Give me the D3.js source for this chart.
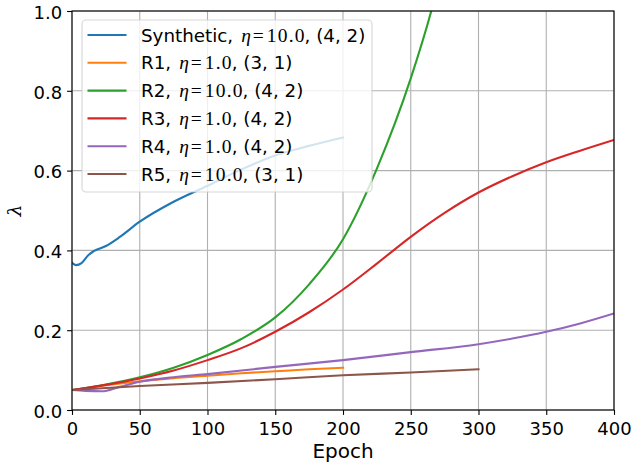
<!DOCTYPE html>
<html>
<head>
<meta charset="utf-8">
<script src="https://cdn.jsdelivr.net/npm/d3@7"></script>
<style>
  html, body { margin: 0; padding: 0; background: #fff; }
  svg { display: block; }
</style>
</head>
<body>
<svg id="chart" width="634" height="466"></svg>
<script>
// ---- data ----
const xTicks = [0, 50, 100, 150, 200, 250, 300, 350, 400];
const yTicks = [0.0, 0.2, 0.4, 0.6, 0.8, 1.0];

const synthEpoch = [0, 3, 7, 12, 16, 25, 35, 50, 75, 100, 125, 150, 175, 200];
const synthVal   = [0.369, 0.363, 0.368, 0.388, 0.398, 0.411, 0.433, 0.472, 0.522, 0.562, 0.603, 0.638, 0.662, 0.683];

const r1Epoch = [0, 25, 50, 75, 100, 125, 150, 175, 200];
const r1Val   = [0.050, 0.062, 0.072, 0.080, 0.086, 0.092, 0.097, 0.102, 0.106];

const r2Epoch = [0, 25, 50, 75, 100, 125, 150, 175, 200, 225, 250, 265, 275];
const r2Val   = [0.050, 0.064, 0.082, 0.106, 0.138, 0.178, 0.232, 0.315, 0.428, 0.605, 0.831, 0.998, 1.13];

const r3Epoch = [0, 25, 50, 75, 100, 125, 150, 175, 200, 225, 250, 275, 300, 325, 350, 375, 400];
const r3Val   = [0.050, 0.063, 0.079, 0.099, 0.125, 0.155, 0.196, 0.245, 0.302, 0.367, 0.434, 0.494, 0.545, 0.586, 0.621, 0.650, 0.677];

const r4Epoch = [0, 10, 22, 35, 50, 75, 100, 150, 200, 250, 300, 325, 350, 375, 400];
const r4Val   = [0.050, 0.048, 0.047, 0.058, 0.071, 0.082, 0.090, 0.108, 0.125, 0.145, 0.165, 0.179, 0.196, 0.217, 0.242];

const r5Epoch = [0, 50, 100, 150, 200, 250, 300];
const r5Val   = [0.050, 0.060, 0.068, 0.077, 0.087, 0.094, 0.102];

const seriesNames = ["Synthetic", "R1", "R2", "R3", "R4", "R5"];
const seriesEta   = ["10.0", "1.0", "10.0", "1.0", "1.0", "10.0"];
const seriesShape = ["(4, 2)", "(3, 1)", "(4, 2)", "(4, 2)", "(4, 2)", "(3, 1)"];
const seriesColor = ["#1f77b4", "#ff7f0e", "#2ca02c", "#d62728", "#9467bd", "#8c564b"];
const seriesX = [synthEpoch, r1Epoch, r2Epoch, r3Epoch, r4Epoch, r5Epoch];
const seriesY = [synthVal, r1Val, r2Val, r3Val, r4Val, r5Val];

// ---- layout ----
const W = 634, H = 466;
const m = {left: 72, right: 20, top: 11, bottom: 56};
const svg = d3.select("#chart");
const x = d3.scaleLinear().domain([0, 400]).range([m.left, W - m.right]);
const y = d3.scaleLinear().domain([0, 1]).range([H - m.bottom, m.top]);
const pw = W - m.left - m.right, ph = H - m.top - m.bottom;

svg.append("defs").append("clipPath").attr("id", "clip")
  .append("rect").attr("x", m.left).attr("y", m.top).attr("width", pw).attr("height", ph);

// grid
const grid = svg.append("g");
grid.selectAll("line.vx").data(xTicks).join("line")
  .attr("x1", d => x(d)).attr("x2", d => x(d)).attr("y1", m.top).attr("y2", H - m.bottom)
  .attr("stroke", "#b0b0b0").attr("stroke-width", 1.1);
grid.selectAll("line.hy").data(yTicks).join("line")
  .attr("y1", d => y(d)).attr("y2", d => y(d)).attr("x1", m.left).attr("x2", W - m.right)
  .attr("stroke", "#b0b0b0").attr("stroke-width", 1.1);

// lines
const line = d3.line().x(d => x(d[0])).y(d => y(d[1])).curve(d3.curveMonotoneX);
const lines = svg.append("g").attr("clip-path", "url(#clip)");
seriesNames.forEach((name, i) => {
  const pts = seriesX[i].map((e, j) => [e, seriesY[i][j]]);
  lines.append("path").datum(pts).attr("d", line)
    .attr("fill", "none").attr("stroke", seriesColor[i]).attr("stroke-width", 2.1)
    .attr("stroke-linecap", "square").attr("stroke-linejoin", "round");
});

// axes
const tickFont = "DejaVu Sans, sans-serif";
const xAxis = svg.append("g").attr("transform", `translate(0,${H - m.bottom})`)
  .call(d3.axisBottom(x).tickValues(xTicks).tickFormat(d3.format("d")).tickSize(4.9).tickPadding(7.2));
const yAxis = svg.append("g").attr("transform", `translate(${m.left},0)`)
  .call(d3.axisLeft(y).tickValues(yTicks).tickFormat(d3.format(".1f")).tickSize(4.9).tickPadding(4.9));
[xAxis, yAxis].forEach(a => {
  a.select(".domain").remove();
  a.selectAll(".tick line").attr("stroke", "#000").attr("stroke-width", 1.1);
  a.selectAll(".tick text").attr("font-family", tickFont).attr("font-size", 18).attr("fill", "#000");
});
yAxis.selectAll(".tick text").attr("dy", "0.4em");

// frame
svg.append("rect").attr("x", m.left).attr("y", m.top).attr("width", pw).attr("height", ph)
  .attr("fill", "none").attr("stroke", "#000").attr("stroke-width", 1.1);

// axis labels
svg.append("text").attr("x", (m.left + W - m.right) / 2).attr("y", 458)
  .attr("text-anchor", "middle").attr("font-family", tickFont).attr("font-size", 20)
  .text("Epoch");
svg.append("text").attr("transform", `translate(21,${(m.top + H - m.bottom) / 2}) rotate(-90)`)
  .attr("text-anchor", "middle").attr("font-family", "DejaVu Serif, serif").attr("font-style", "italic")
  .attr("font-size", 19).text("λ");

// legend
const lg = svg.append("g");
lg.append("rect").attr("x", 82).attr("y", 20).attr("width", 290).attr("height", 172)
  .attr("rx", 4).attr("ry", 4)
  .attr("fill", "#fff").attr("fill-opacity", 0.8)
  .attr("stroke", "#cccccc").attr("stroke-opacity", 0.8).attr("stroke-width", 1.1);
const mathFont = "Liberation Serif, serif";
seriesNames.forEach((name, i) => {
  const cy = 35 + i * 27.8;
  lg.append("line").attr("x1", 87.5).attr("x2", 126.5).attr("y1", cy).attr("y2", cy)
    .attr("stroke", seriesColor[i]).attr("stroke-width", 2.1);
  const t = lg.append("text").attr("x", 141).attr("y", cy).attr("dy", "0.36em")
    .attr("font-family", tickFont).attr("font-size", 18.3).attr("fill", "#000");
  t.append("tspan").text(name + ",");
  t.append("tspan").attr("font-family", mathFont).attr("font-style", "italic")
    .attr("font-size", 19.5).attr("dx", 8).text("η");
  t.append("tspan").attr("font-family", mathFont).attr("font-size", 19.5)
    .attr("dx", 2).text("=");
  t.append("tspan").attr("font-family", mathFont).attr("font-size", 19.5)
    .attr("letter-spacing", 1.2).attr("dx", 3).text(seriesEta[i]);
  t.append("tspan").attr("dx", -1.2).text(", " + seriesShape[i]);
});
</script>
</body>
</html>
